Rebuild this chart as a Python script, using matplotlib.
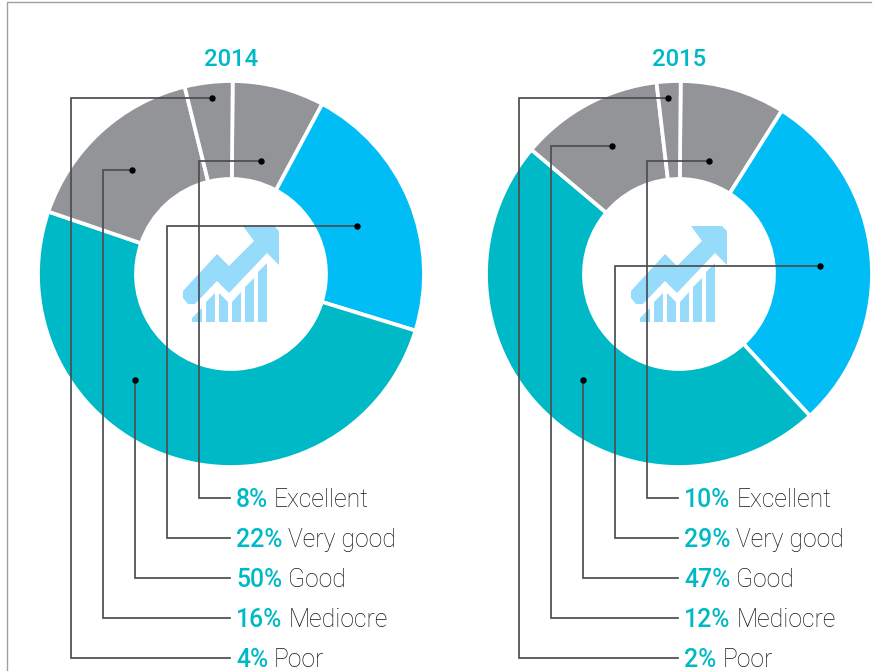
import matplotlib.pyplot as plt
from matplotlib.patches import Polygon

plt.rcParams['font.family'] = ['Roboto', 'DejaVu Sans']

# Data
years = ["2014", "2015"]
categories = ["Excellent", "Very good", "Good", "Mediocre", "Poor"]
labels_2014 = [8, 22, 50, 16, 4]
labels_2015 = [10, 29, 47, 12, 2]
# wedge sizes as drawn in the picture (they do not quite follow the labels)
wedges_2014 = [7.7, 21.9, 50.5, 15.9, 4.0]
wedges_2015 = [8.8, 29.2, 48, 12, 2]

colors = ["#929497", "#00BDF6", "#00B9C6", "#929497", "#929497"]
teal = "#00B9C6"
line_col = "#4d4d4f"
text_col = "#151515"

# leader lines, pixels: dot x, dot y, vertical x
leaders_2014 = [(261, 161, 199), (357, 226, 167), (135, 380, 135), (132, 170, 103), (212, 98, 71)]
leaders_2015 = [(709, 161, 647), (820, 266, 615), (583, 380, 583), (612, 146, 551), (668, 98, 519)]
label_y = [498, 538, 578, 618, 658]

# icon outline (pixels, around the first donut)
arrow = [(243, 226), (274, 226), (279, 231), (279, 265), (267, 253), (229, 293), (217, 281),
         (195, 304), (188, 304), (183, 298), (183, 291), (217, 254), (229, 266), (254, 241)]
bars = [[(192, 322), (192, 318), (202, 308), (202, 322)],
        [(206, 322), (206, 302), (215, 293), (215, 322)],
        [(219, 322), (219, 293), (228, 302), (228, 322)],
        [(232, 322), (232, 302), (241, 292), (241, 322)],
        [(245, 322), (245, 287), (254, 278), (254, 322)],
        [(258, 322), (258, 272), (267, 263), (267, 322)]]

fig = plt.figure(figsize=(8.76, 6.71), dpi=100)
ax = fig.add_axes([0, 0, 1, 1])
ax.set_xlim(0, 876)
ax.set_ylim(671, 0)
ax.axis("off")

# border
ax.plot([7, 7, 871], [671, 2, 2], color="#a0a0a0", lw=1.0, solid_joinstyle="miter")


def donut(cx, cy, wedges, pcts, leaders, year):
    off = cx - 231
    # y axis is flipped here, so counterclock=True runs clockwise on screen
    ax.pie(wedges, colors=colors, center=(cx, cy), radius=193, startangle=-89.5,
           counterclock=True, wedgeprops=dict(width=98, edgecolor="white", linewidth=2.7),
           frame=True)
    ax.text(cx, 60, year, color=teal, fontsize=17.2, fontweight="medium", ha="center", va="center")

    ax.add_patch(Polygon([(x + off, y) for x, y in arrow], closed=True, fc="#97DBFB", ec="none", zorder=3))
    for b in bars:
        ax.add_patch(Polygon([(x + off, y) for x, y in b], closed=True, fc="#97DBFB", ec="none", zorder=3))

    for (dx, dy, vx), ly, pct, cat in zip(leaders, label_y, pcts, categories):
        ax.plot([dx, vx, vx, cx - 1], [dy, dy, ly, ly], color=line_col, lw=1.25, zorder=4,
                solid_joinstyle="miter")
        ax.plot(dx, dy, "o", color="black", ms=3.6, zorder=5)
        t = ax.text(cx + 5, ly + 2, f"{pct}%", color=teal, fontsize=17.8, fontweight="medium",
                    ha="left", va="center")
        bb = t.get_window_extent(fig.canvas.get_renderer())
        ax.text(bb.x1 + 6, ly + 2, cat, color=text_col, fontsize=17.8, fontweight="light",
                ha="left", va="center")


donut(231, 274, wedges_2014, labels_2014, leaders_2014, years[0])
donut(679, 274, wedges_2015, labels_2015, leaders_2015, years[1])

ax.set_xlim(0, 876)
ax.set_ylim(671, 0)
ax.set_aspect("auto")
ax.axis("off")

fig.savefig("out.png", dpi=100)
